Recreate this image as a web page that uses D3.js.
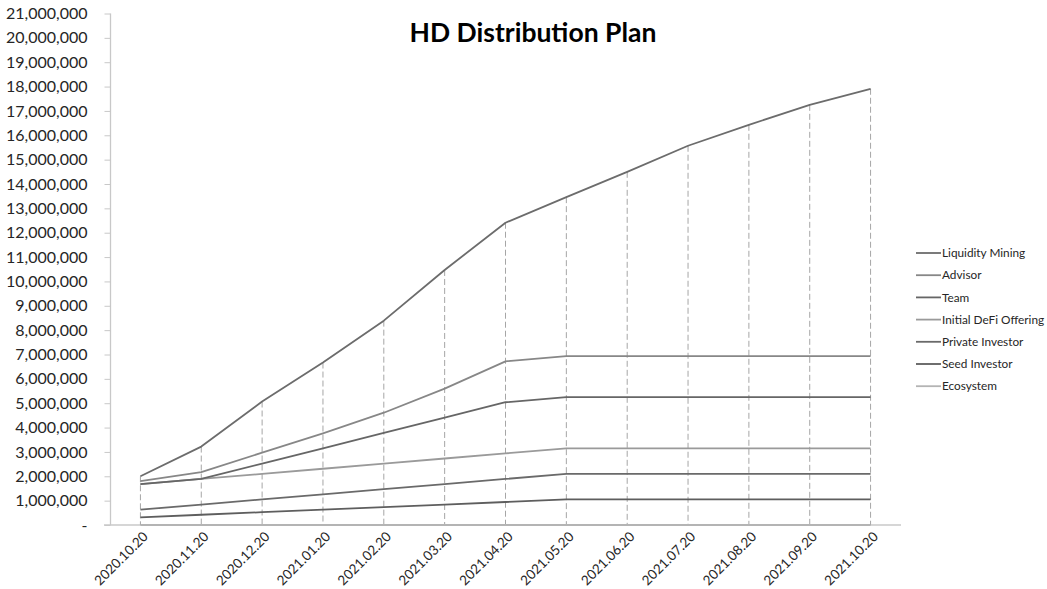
<!DOCTYPE html>
<html>
<head>
<meta charset="utf-8">
<script src="https://cdn.jsdelivr.net/npm/d3@7"></script>
<style>
  html, body { margin: 0; padding: 0; background: #fff; }
  svg { display: block; }
  text { font-family: Lato, "Open Sans", sans-serif; fill: #262626; }
</style>
</head>
<body>
<svg id="chart" width="1047" height="589"></svg>
<script>
// Release dates (monthly unlocks)
const categories = [
  "2020.10.20", "2020.11.20", "2020.12.20", "2021.01.20", "2021.02.20",
  "2021.03.20", "2021.04.20", "2021.05.20", "2021.06.20", "2021.07.20",
  "2021.08.20", "2021.09.20", "2021.10.20"
];

// Circulating tokens per allocation (stacked, bottom to top)
const ecosystem = [0, 0, 0, 0, 0, 0, 0, 0, 0, 0, 0, 0, 0];
const seedInvestor = [315000, 420000, 525000, 630000, 735000, 840000, 945000, 1050000, 1050000, 1050000, 1050000, 1050000, 1050000];
const privateInvestor = [315000, 420000, 525000, 630000, 735000, 840000, 945000, 1050000, 1050000, 1050000, 1050000, 1050000, 1050000];
const initialDefiOffering = [1050000, 1050000, 1050000, 1050000, 1050000, 1050000, 1050000, 1050000, 1050000, 1050000, 1050000, 1050000, 1050000];
const team = [0, 0, 420000, 840000, 1260000, 1680000, 2100000, 2100000, 2100000, 2100000, 2100000, 2100000, 2100000];
const advisor = [120000, 280000, 450000, 610000, 830000, 1190000, 1680000, 1680000, 1680000, 1680000, 1680000, 1680000, 1680000];
const liquidityMining = [200000, 1050000, 2100000, 2910000, 3780000, 4870000, 5690000, 6530000, 7570000, 8640000, 9500000, 10320000, 10980000];

const seriesNames = ["Ecosystem", "Seed Investor", "Private Investor", "Initial DeFi Offering", "Team", "Advisor", "Liquidity Mining"];
const seriesValues = [ecosystem, seedInvestor, privateInvestor, initialDefiOffering, team, advisor, liquidityMining];
const seriesColors = ["#b4b4b4", "#5e5e5e", "#6a6a6a", "#9a9a9a", "#666666", "#878787", "#6c6c6c"];

const yTicks = d3.range(0, 21000001, 1000000);

const svg = d3.select("#chart");

const x = d3.scalePoint().domain(categories).range([110, 901]).padding(0.5);
const y = d3.scaleLinear().domain([0, 21000000]).range([525, 13.5]);

// table for d3.stack
const table = categories.map((c, i) => {
  const row = { date: c };
  seriesNames.forEach((n, k) => { row[n] = seriesValues[k][i]; });
  return row;
});
const stacked = d3.stack().keys(seriesNames)(table);

// Title
svg.append("text")
  .attr("x", 533).attr("y", 42)
  .attr("text-anchor", "middle")
  .style("font-size", "26.5px").style("font-weight", "700")
  .style("fill", "#000")
  .text("HD Distribution Plan");

// Y axis
const yAxis = d3.axisLeft(y)
  .tickValues(yTicks)
  .tickSize(6)
  .tickPadding(17)
  .tickFormat(d => d === 0 ? "-" : d3.format(",")(d));
const gy = svg.append("g").attr("transform", "translate(110.5,0)").call(yAxis);
gy.select(".domain").attr("stroke", "#c8c8c8").attr("stroke-width", 1.3).attr("d", `M0,${y(21000000)}V${y(0)}`);
gy.selectAll(".tick line").attr("stroke", "#c8c8c8");
gy.selectAll(".tick text").style("font-size", "16px").style("fill", "#262626").attr("font-family", null);

// X axis line
svg.append("line")
  .attr("x1", 104).attr("x2", 901)
  .attr("y1", y(0)).attr("y2", y(0))
  .attr("stroke", "#c8c8c8").attr("stroke-width", 1.5);

// X labels, rotated
const gx = svg.append("g");
gx.selectAll("text").data(categories).join("text")
  .attr("transform", d => `translate(${x(d) + 5},${y(0) + 9}) rotate(-45)`)
  .attr("text-anchor", "end")
  .attr("dy", "0.35em")
  .style("font-size", "13.5px")
  .text(d => d);

// Drop lines from the top series to the axis
const topSeries = stacked[stacked.length - 1];
svg.append("g").selectAll("line").data(topSeries).join("line")
  .attr("x1", d => x(d.data.date)).attr("x2", d => x(d.data.date))
  .attr("y1", d => y(d[1])).attr("y2", y(0))
  .attr("stroke", "#a6a6a6").attr("stroke-width", 1)
  .attr("stroke-dasharray", "6,3");

// Series lines
const line = d3.line().x(d => x(d.data.date)).y(d => y(d[1]));
svg.append("g").selectAll("path").data(stacked).join("path")
  .attr("fill", "none")
  .attr("stroke", (d, i) => seriesColors[i])
  .attr("stroke-width", 1.8)
  .attr("stroke-linejoin", "round")
  .attr("d", line);

// Legend (top series first)
const legendOrder = d3.range(seriesNames.length).reverse();
const lg = svg.append("g").attr("transform", "translate(916,253)");
const items = lg.selectAll("g").data(legendOrder).join("g")
  .attr("transform", (d, i) => `translate(0,${i * 22.2})`);
items.append("line")
  .attr("x1", 0).attr("x2", 25).attr("y1", 0).attr("y2", 0)
  .attr("stroke", d => seriesColors[d]).attr("stroke-width", 1.8);
items.append("text")
  .attr("x", 26).attr("dy", "0.35em")
  .style("font-size", "11.8px")
  .text(d => seriesNames[d]);
</script>
</body>
</html>
